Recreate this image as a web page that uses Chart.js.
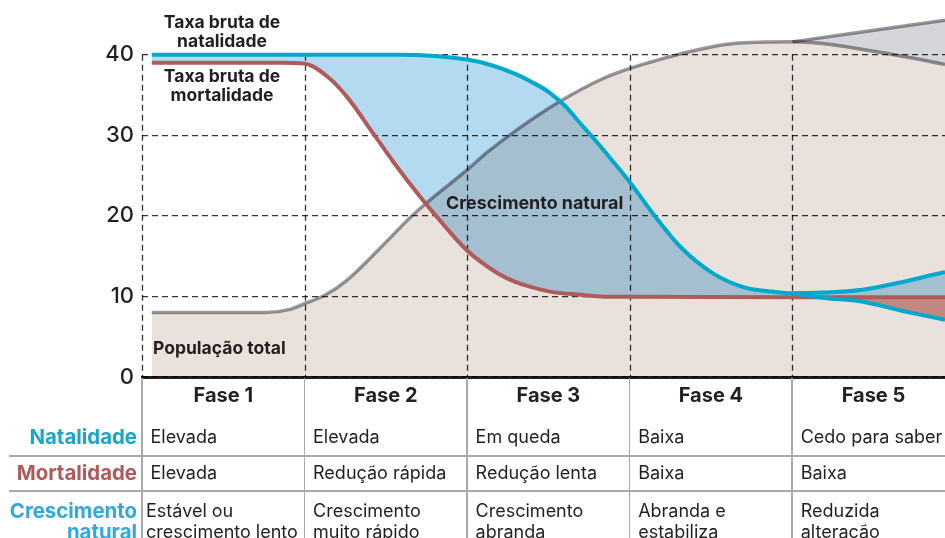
<!DOCTYPE html>
<html><head><meta charset="utf-8">
<script src="https://cdn.jsdelivr.net/npm/chart.js@4/dist/chart.umd.min.js"></script>
<style>
html,body{margin:0;padding:0;background:#fff;overflow:hidden}
#wrap{position:relative;width:945px;height:538px;font-family:Inter,"Noto Sans",sans-serif;color:#231f20;overflow:hidden}
#c{position:absolute;left:0;top:0}
.t{position:absolute;white-space:nowrap}
.b{font-weight:700}
.ln{position:absolute;background:#a9a9a9}
</style></head><body>
<div id="wrap"><canvas id="c" width="945" height="538"></canvas></div>
<script>
// ---- data (x in phase units, y in per-mille) ----
const PHASE_LINES = [0, 1, 2, 3, 4];
const Y_TICKS = [0, 10, 20, 30, 40];
const X_MAX = 4.94;
const Y_MAX = 46.3;

const BIRTH_X = [0.06, 0.97, 1.59, 2.0, 2.15, 2.3, 2.4, 2.5, 2.6, 2.7, 2.8, 2.9, 3.0, 3.15, 3.31, 3.51, 3.71, 3.88, 4.0, 4.2, 4.42, 4.68, 4.94];
const BIRTH_Y = [40, 40, 40, 39.4, 38.7, 37.6, 36.6, 35.4, 33.7, 31.4, 29.1, 26.7, 24.2, 20.1, 16.2, 12.9, 11.1, 10.6, 10.4, 10.5, 10.8, 11.8, 13.05];
const BIRTH_LOW_X = [4.0, 4.2, 4.42, 4.68, 4.94];
const BIRTH_LOW_Y = [10.4, 9.8, 9.4, 8.2, 7.1];
const DEATH_X = [0.06, 0.85, 1.0, 1.14, 1.26, 1.42, 1.55, 1.71, 1.83, 2.0, 2.14, 2.24, 2.37, 2.51, 2.7, 2.82, 3.0, 4.0, 4.94];
const DEATH_Y = [39, 39, 38.9, 37.3, 34.8, 30.3, 26.6, 22.4, 19.5, 15.7, 13.5, 12.3, 11.3, 10.6, 10.2, 10.0, 9.95, 9.9, 9.9];
const POP_X = [0.06, 0.76, 0.91, 1.0, 1.13, 1.26, 1.47, 1.65, 1.75, 2.0, 2.13, 2.26, 2.4, 2.57, 2.82, 3.0, 3.13, 3.31, 3.64, 4.0, 4.6, 4.94];
const POP_Y = [8.0, 8.0, 8.4, 9.1, 10.2, 12.0, 16.1, 19.8, 21.6, 25.7, 28.0, 30.0, 32.0, 34.2, 36.9, 38.3, 39.1, 40.1, 41.4, 41.6, 40.1, 38.8];
const POP_UP_X = [4.0, 4.94];
const POP_UP_Y = [41.6, 44.3];

const PHASES = ["Fase 1", "Fase 2", "Fase 3", "Fase 4", "Fase 5"];
const ROW_NATALIDADE = ["Elevada", "Elevada", "Em queda", "Baixa", "Cedo para saber"];
const ROW_MORTALIDADE = ["Elevada", "Redução rápida", "Redução lenta", "Baixa", "Baixa"];
const ROW_CRESCIMENTO = [["Estável ou", "crescimento lento"], ["Crescimento", "muito rápido"], ["Crescimento", "abranda"], ["Abranda e", "estabiliza"], ["Reduzida", "alteração"]];

const pts = (xs, ys) => xs.map((x, i) => ({x: x, y: ys[i]}));

const CYAN = '#00a8cc', RED = '#b05b5b', GREY = '#99989d';

const blendPlugin = {
  id: 'blend',
  beforeDraw(chart) { chart.ctx.globalCompositeOperation = 'multiply'; },
  beforeDatasetsDraw(chart) {
    const {ctx, scales: {x, y}} = chart;
    ctx.save();
    ctx.strokeStyle = '#333';
    ctx.lineWidth = 1.3;
    ctx.setLineDash([6, 4]);
    const yTop = y.getPixelForValue(40), yBot = y.getPixelForValue(0);
    PHASE_LINES.forEach(v => {
      const px = Math.round(x.getPixelForValue(v)) + 0.5;
      ctx.beginPath(); ctx.moveTo(px, yTop); ctx.lineTo(px, yBot); ctx.stroke();
    });
    ctx.restore();
  },
  beforeDatasetDraw(chart, args) {
    chart.ctx.globalCompositeOperation = args.index >= 3 ? 'multiply' : 'source-over';
  },
  afterDatasetsDraw(chart) { chart.ctx.globalCompositeOperation = 'source-over'; }
};

const chart = new Chart(document.getElementById('c'), {
  type: 'line',
  data: {
    datasets: [
      {data: pts(BIRTH_X, BIRTH_Y), borderColor: CYAN, borderWidth: 4,
       fill: {target: 2, above: '#b4daf2', below: 'rgba(0,0,0,0)'}},
      {data: pts(BIRTH_LOW_X, BIRTH_LOW_Y), borderColor: CYAN, borderWidth: 4,
       fill: {target: 2, above: 'rgba(0,0,0,0)', below: '#d29a92'}},
      {data: pts(DEATH_X, DEATH_Y), borderColor: RED, borderWidth: 4, fill: false},
      {data: pts(POP_X, POP_Y), borderColor: GREY, borderWidth: 3.5,
       fill: 'origin', backgroundColor: '#e9e1dc'},
      {data: pts(POP_UP_X, POP_UP_Y), borderColor: GREY, borderWidth: 3.5,
       fill: {target: 3, above: '#d5d6da', below: '#d5d6da'}}
    ]
  },
  options: {
    responsive: false, animation: false, events: [],
    layout: {padding: {top: 4, bottom: 161, left: 0, right: 0}},
    plugins: {legend: {display: false}, tooltip: {enabled: false},
      filler: {drawTime: 'beforeDatasetsDraw', propagate: false}},
    elements: {point: {radius: 0}, line: {cubicInterpolationMode: 'monotone', borderCapStyle: 'butt', borderJoinStyle: 'round'}},
    scales: {
      x: {type: 'linear', min: 0, max: X_MAX,
          ticks: {display: false}, grid: {display: false, drawTicks: false},
          border: {display: true, color: '#231f20', width: 3},
          afterFit(s) { s.height = 0; s.paddingLeft = 0; s.paddingRight = 0; s.paddingTop = 0; s.paddingBottom = 0; }},
      y: {type: 'linear', min: 0, max: Y_MAX,
          afterFit(s) { s.width = 142; s.paddingTop = 0; s.paddingBottom = 0; s.paddingLeft = 0; s.paddingRight = 0; },
          afterBuildTicks(s) { s.ticks = Y_TICKS.map(v => ({value: v})); },
          ticks: {padding: 8, color: '#231f20', font: {family: 'Inter', size: 22, weight: '500'}},
          grid: {color: '#333', lineWidth: 1.3, drawTicks: false},
          border: {display: false, dash: [6, 4]}}
    }
  },
  plugins: [blendPlugin]
});

// ---- text & table overlay ----
const wrap = document.getElementById('wrap');
function txt(s, css, cls) {
  const d = document.createElement('div');
  d.className = 't ' + (cls || '');
  d.textContent = s;
  Object.assign(d.style, css);
  wrap.appendChild(d);
  return d;
}
function line(css) {
  const d = document.createElement('div');
  d.className = 'ln';
  Object.assign(d.style, css);
  wrap.appendChild(d);
}
const xs = chart.scales.x;
const colL = PHASE_LINES.map(v => xs.getPixelForValue(v));
const colW = xs.getPixelForValue(1) - xs.getPixelForValue(0);
const bottom = chart.chartArea.bottom;

// annotations
const ann = {fontSize: '17.5px', lineHeight: '19px', textAlign: 'center', width: '200px', left: '122px'};
txt('Taxa bruta de', Object.assign({}, ann, {top: '12px'}), 'b');
txt('natalidade', Object.assign({}, ann, {top: '31px'}), 'b');
txt('Taxa bruta de', Object.assign({}, ann, {top: '66px'}), 'b');
txt('mortalidade', Object.assign({}, ann, {top: '85px'}), 'b');
txt('Crescimento natural', {left: '446px', top: '193px', fontSize: '17.9px', lineHeight: '20px'}, 'b');
txt('População total', {left: '153px', top: '338px', fontSize: '17.5px', lineHeight: '20px'}, 'b');

// table lines
colL.forEach(x => line({left: (x - 0.75) + 'px', top: (bottom + 1) + 'px', width: '1.5px', height: (538 - bottom) + 'px'}));
line({left: '9px', top: '455px', width: '936px', height: '1.5px'});
line({left: '9px', top: '490px', width: '936px', height: '1.5px'});

// headers
PHASES.forEach((p, i) => txt(p, {left: colL[i] + 'px', width: colW + 'px', textAlign: 'center', top: '384px', fontSize: '20px', lineHeight: '22px'}, 'b'));

// row labels
const rl = {right: (945 - 137) + 'px', fontSize: '20.4px', lineHeight: '21px', textAlign: 'right'};
txt('Natalidade', Object.assign({}, rl, {top: '426px', color: '#1aa6cb'}), 'b');
txt('Mortalidade', Object.assign({}, rl, {top: '462px', color: '#b05b5b'}), 'b');
txt('Crescimento', Object.assign({}, rl, {top: '500px', color: '#30aade'}), 'b');
txt('natural', Object.assign({}, rl, {top: '521px', color: '#30aade'}), 'b');

// cells
const cell = {fontSize: '18px', lineHeight: '21px'};
ROW_NATALIDADE.forEach((s, i) => txt(s, Object.assign({}, cell, {left: (colL[i] + 8.5) + 'px', top: '426px'})));
ROW_MORTALIDADE.forEach((s, i) => txt(s, Object.assign({}, cell, {left: (colL[i] + 8.5) + 'px', top: '462px'})));
ROW_CRESCIMENTO.forEach((arr, i) => arr.forEach((s, j) => txt(s, Object.assign({}, cell, {left: (colL[i] + (i === 0 ? 4 : 8.5)) + 'px', top: (500 + 21 * j) + 'px'}))));
</script>
</body></html>
